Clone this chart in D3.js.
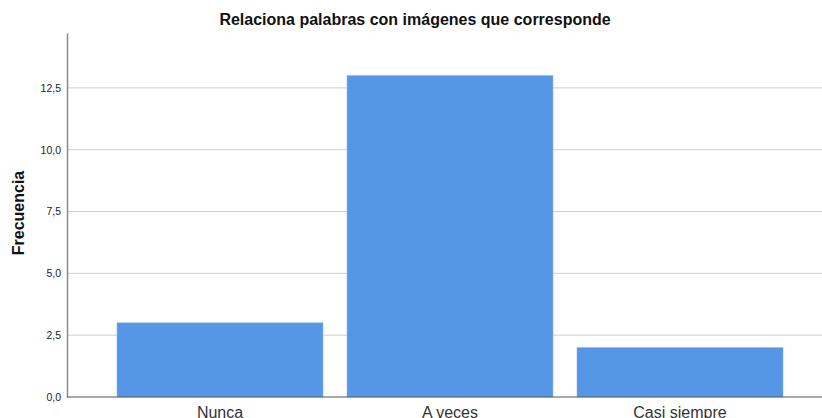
<!DOCTYPE html>
<html>
<head>
<meta charset="utf-8">
<script src="https://cdn.jsdelivr.net/npm/d3@7"></script>
<style>
  body { margin: 0; background: #fff; }
  svg { display: block; font-family: Arial, "Liberation Sans", sans-serif; }
</style>
</head>
<body>
<svg width="822" height="418"></svg>
<script>
let categorias = ["Nunca", "A veces", "Casi siempre"];
let frecuencias = [3, 13, 2];
let ticks_y = [0, 2.5, 5, 7.5, 10, 12.5];

let $svg = d3.select("svg");
let w = 822, h = 418;

let base = 397, topo = 33, eixo_x = 67;

let y = d3.scaleLinear()
  .domain([0, 14.72])
  .range([base, topo]);

let x = d3.scaleBand()
  .domain(categorias)
  .range([eixo_x, 833])
  .paddingInner(0.1043)
  .paddingOuter(0.2174);

// grade
$svg.selectAll("line.grade").data(ticks_y.filter(d => d > 0))
  .enter().append("line")
  .attr("x1", eixo_x).attr("x2", w)
  .attr("y1", d => y(d)).attr("y2", d => y(d))
  .attr("stroke", "#cfcfcf")
  .attr("stroke-width", 1);

// barras
$svg.selectAll("rect.barra").data(frecuencias)
  .enter().append("rect")
  .attr("x", (d, i) => x(categorias[i]))
  .attr("y", d => y(d))
  .attr("width", x.bandwidth())
  .attr("height", d => base - y(d))
  .attr("fill", "#5596e6")
  .attr("stroke", "#8fbaf0")
  .attr("stroke-width", 0.6);

// eixo y
let eixoY = d3.axisLeft(y)
  .tickValues(ticks_y)
  .tickSize(0)
  .tickPadding(6)
  .tickFormat(d => d3.format(".1f")(d).replace(".", ","));

let gy = $svg.append("g")
  .attr("transform", `translate(${eixo_x},0)`)
  .call(eixoY);
gy.select(".domain").attr("stroke", "#8a8a8a").attr("stroke-width", 1.5);
gy.selectAll("text").attr("font-size", 10.5).attr("fill", "#222");

// linha base
$svg.append("line")
  .attr("x1", eixo_x).attr("x2", w)
  .attr("y1", base).attr("y2", base)
  .attr("stroke", "#555")
  .attr("stroke-width", 1.2);

// rótulos x
$svg.selectAll("text.cat").data(categorias)
  .enter().append("text")
  .attr("x", d => x(d) + x.bandwidth() / 2)
  .attr("y", 418)
  .attr("text-anchor", "middle")
  .attr("font-size", 16)
  .attr("fill", "#333")
  .text(d => d);

// título
$svg.append("text")
  .attr("x", 415)
  .attr("y", 25)
  .attr("text-anchor", "middle")
  .attr("font-size", 16)
  .attr("font-weight", "bold")
  .attr("fill", "#111")
  .text("Relaciona palabras con imágenes que corresponde");

// rótulo y
$svg.append("text")
  .attr("transform", "translate(24,213) rotate(-90)")
  .attr("text-anchor", "middle")
  .attr("font-size", 16)
  .attr("font-weight", "bold")
  .attr("fill", "#111")
  .text("Frecuencia");
</script>
</body>
</html>
